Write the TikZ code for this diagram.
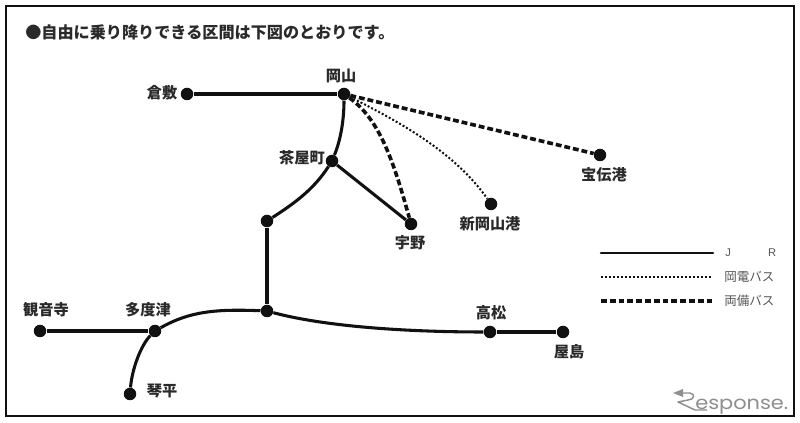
\documentclass[tikz,border=0pt]{standalone}
\usepackage{fontspec}
\setmainfont{Liberation Sans}
\newfontfamily\cjk{Noto Sans CJK JP}
\newfontfamily\logofont{Poppins}
\definecolor{ink}{HTML}{111111}
\definecolor{txt}{HTML}{2A2A2A}
\definecolor{legtxt}{HTML}{555555}
\definecolor{logo}{HTML}{8E8E8E}
\tikzset{
  stn/.style={circle,fill=ink,inner sep=0pt,minimum size=12.5*0.75pt},
  jr/.style={draw=ink,line width=2.3pt},
  dotbus/.style={draw=ink,line width=1.5pt,dash pattern=on 1.5pt off 1.5pt},
  dashbus/.style={draw=ink,line width=2.7pt,dash pattern=on 4.4pt off 2.2pt},
  lab/.style={inner sep=0pt,text=txt,font=\cjk\bfseries\fontsize{11.4pt}{13pt}\selectfont},
  leg/.style={inner sep=0pt,anchor=west,text=legtxt,font=\cjk\fontsize{9.4pt}{11pt}\selectfont},
}
\begin{document}
\begin{tikzpicture}[x=0.75pt,y=-0.75pt]
\useasboundingbox (0,0) rectangle (800,423);
\fill[white] (0,0) rectangle (800,423);
\draw[draw=ink,line width=1.6pt] (6,6) rectangle (794,416);

\node[lab,anchor=west,font=\cjk\bfseries\fontsize{12.1pt}{14pt}\selectfont] (title) at (25,32) {●自由に乗り降りできる区間は下図のとおりです。};

\node[stn] (kurashiki) at (187,94) {};
\node[stn] (okayama) at (344,94) {};
\node[stn] (chayamachi) at (332,161) {};
\node[stn] (uno) at (411,224) {};
\node[stn] (shinoka) at (491,204) {};
\node[stn] (hoden) at (600,155) {};
\node[stn] (ja) at (267,221) {};
\node[stn] (jb) at (267,311) {};
\node[stn] (tadotsu) at (155,331) {};
\node[stn] (kanonji) at (40,331) {};
\node[stn] (kotohira) at (130,394) {};
\node[stn] (takamatsu) at (490,332) {};
\node[stn] (yashima) at (563,332) {};

\node[lab] (lk) at (162,93) {倉敷};
\node[lab] (lo) at (341,76) {岡山};
\node[lab] (lc) at (302,158) {茶屋町};
\node[lab] (lu) at (410,243) {宇野};
\node[lab] (ls) at (490,224) {新岡山港};
\node[lab] (lh) at (604,175) {宝伝港};
\node[lab] (lkn) at (46,310) {観音寺};
\node[lab] (lt) at (148,310) {多度津};
\node[lab] (lkt) at (162,391) {琴平};
\node[lab] (lta) at (491,313) {高松};
\node[lab] (ly) at (569,352) {屋島};

\draw[jr] (kurashiki) -- (okayama);
\draw[jr] (okayama) .. controls +(0,25) and +(9,-22) .. (chayamachi);
\draw[jr] (chayamachi) -- (uno);
\draw[jr] (chayamachi) .. controls +(-18,28) and +(28,-18) .. (ja);
\draw[jr] (ja) -- (jb);
\draw[jr] (kanonji) -- (tadotsu);
\draw[jr] (tadotsu) .. controls +(35,-20) and +(-50,-2) .. (jb);
\draw[jr] (tadotsu) .. controls +(-14,14) and +(2,-25) .. (kotohira);
\draw[jr] (jb) .. controls +(75,20) and +(-40,0) .. (takamatsu);
\draw[jr] (takamatsu) -- (yashima);

\draw[dashbus] (okayama) -- (hoden);
\draw[dotbus] (okayama) .. controls +(60,30) and +(-35,-50) .. (shinoka);
\draw[dashbus] (okayama) .. controls +(35,25) and +(-18,-65) .. (uno);

\coordinate (a1) at (601,253); \coordinate (a2) at (713,253);
\coordinate (b1) at (601,277); \coordinate (b2) at (713,277);
\coordinate (c1) at (601,301); \coordinate (c2) at (713,301);
\draw[jr,line cap=round,line width=2pt] (a1) -- (a2);
\draw[dotbus] (b1) -- (b2);
\draw[dashbus] (c1) -- (c2);
\node[leg,font=\fontsize{8.4pt}{10pt}\selectfont] (lj) at (725,253) {J\hspace{28pt}R};
\node[leg] (lb) at (724,277) {岡電バス};
\node[leg] (lr) at (724,301) {両備バス};

\draw[logo,line width=1.1pt,line join=round] (680,393) -- (690,393) .. controls (696,394) and (694,400) .. (688,400) -- (678,402) -- (695,410) -- (707,410);
\fill[logo] (673,393) -- (683,389) -- (683,397) -- cycle;
\node[inner sep=0pt,anchor=base west,text=logo,xscale=1.12,transform shape,font=\logofont\fontsize{14pt}{14pt}\selectfont] (resp) at (695,410) {esponse.};
\end{tikzpicture}
\end{document}
